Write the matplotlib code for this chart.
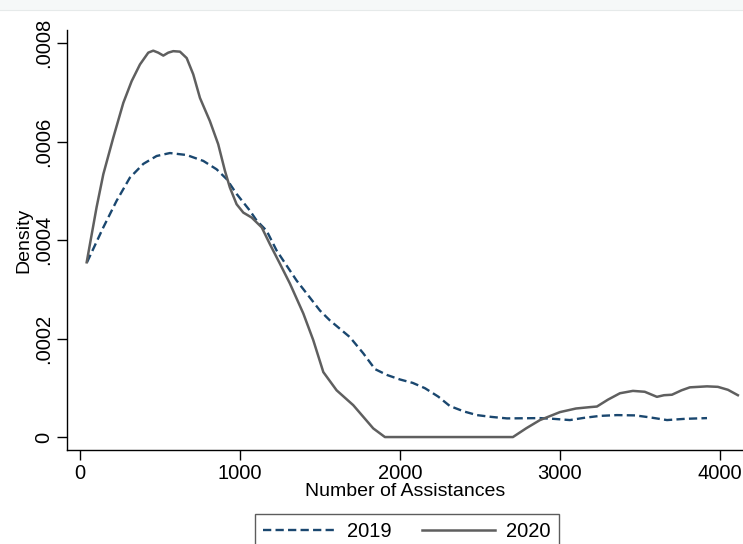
import numpy as np
import matplotlib.pyplot as plt
from matplotlib.patches import Rectangle

plt.rcParams['font.family'] = ['Liberation Sans', 'DejaVu Sans']

# kernel density values
x_2019 = [44, 146, 229, 312, 396, 479, 562, 667, 771, 854, 917, 979, 1062, 1104, 1167, 1229, 1354,
          1500, 1562, 1687, 1771, 1844, 1920, 2000, 2080, 2156, 2240, 2312, 2400, 2481, 2570, 2669,
          2780, 2875, 2960, 3062, 3150, 3250, 3356, 3470, 3562, 3669, 3780, 3919]
y_2019 = [0.000355, 0.000426, 0.000480, 0.000527, 0.000555, 0.000571, 0.000577, 0.000573, 0.000561,
          0.000544, 0.000524, 0.000494, 0.000460, 0.000440, 0.000419, 0.000379, 0.000318, 0.000257,
          0.000237, 0.000203, 0.000170, 0.000138, 0.000126, 0.000117, 0.000110, 0.0000993, 0.000082,
          0.0000630, 0.000052, 0.0000446, 0.000041, 0.0000379, 0.0000382, 0.0000385, 0.000037,
          0.0000345, 0.000039, 0.0000430, 0.0000446, 0.000044, 0.000040, 0.0000345, 0.000037,
          0.0000385]

x_2020 = [42, 104, 146, 208, 271, 323, 375, 427, 458, 489, 521, 552, 583, 625, 667, 708, 750, 771,
          812, 864, 906, 937, 979, 1021, 1073, 1136, 1187, 1250, 1312, 1396, 1458, 1521, 1604, 1708,
          1833, 1906, 2100, 2300, 2500, 2706, 2790, 2875, 3000, 3100, 3187, 3231, 3300, 3375, 3456,
          3530, 3606, 3650, 3700, 3760, 3812, 3919, 3987, 4050, 4112]
y_2020 = [0.000355, 0.000467, 0.000534, 0.000608, 0.000679, 0.000723, 0.000757, 0.000781, 0.000785,
          0.000781, 0.000775, 0.000781, 0.000784, 0.000783, 0.000770, 0.000737, 0.000689, 0.000673,
          0.000642, 0.000595, 0.000541, 0.000507, 0.000473, 0.000456, 0.000446, 0.000426, 0.000392,
          0.000352, 0.000312, 0.000251, 0.000197, 0.000132, 0.000095, 0.0000648, 0.0000176, 0.0,
          0.0, 0.0, 0.0, 0.0, 0.000018, 0.0000345, 0.0000507, 0.000058, 0.0000608, 0.000062,
          0.000076, 0.000089, 0.0000938, 0.000092, 0.0000817, 0.000085, 0.000086, 0.000095, 0.000101,
          0.000103, 0.000102, 0.000096, 0.000085]

x_ticks = [0, 1000, 2000, 3000, 4000]
y_ticks = [0, 0.0002, 0.0004, 0.0006, 0.0008]
y_tick_labels = ['0', '.0002', '.0004', '.0006', '.0008']

fig = plt.figure(figsize=(7.43, 5.44), dpi=100)
ax = fig.add_axes([67 / 743, 1 - 450 / 544, 1 - 67 / 743, (450 - 30) / 544])

# faint band at the very top
fig.patches.append(Rectangle((0, 1 - 10 / 544), 1, 10 / 544, transform=fig.transFigure,
                             facecolor='#f6f8f8', edgecolor='none'))
fig.lines.append(plt.Line2D([0, 1], [1 - 10 / 544, 1 - 10 / 544], transform=fig.transFigure,
                            color='#e6eaea', lw=0.8))

ax.plot(x_2019, y_2019, color='#1a476f', lw=1.7, dashes=(3.5, 1.8), label='2019')
ax.plot(x_2020, y_2020, color='#5f5f5f', lw=1.8, label='2020')

ax.set_xlim(-81, 4144)
ax.set_ylim(-0.0000263, 0.000827)
ax.set_xticks(x_ticks)
ax.set_xticklabels([str(t) for t in x_ticks], fontsize=14.5)
ax.set_yticks(y_ticks)
ax.set_yticklabels(y_tick_labels, fontsize=14.5, rotation=90, va='center')
ax.tick_params(direction='out', length=7, width=1, colors='black', pad=3)
ax.spines['top'].set_visible(False)
ax.spines['right'].set_visible(False)
ax.spines['left'].set_linewidth(1)
ax.spines['bottom'].set_linewidth(1)
ax.set_xlabel('Number of Assistances', fontsize=14, labelpad=0)
ax.set_ylabel('Density', fontsize=14, labelpad=1)

leg = fig.legend(loc='upper left', bbox_to_anchor=(255 / 743, 1 - 514 / 544), ncol=2,
                 fontsize=14.5, frameon=True, fancybox=False, handlelength=3.6,
                 columnspacing=1.55, borderpad=0.4, handletextpad=0.55, borderaxespad=0)
leg.get_frame().set_edgecolor('#333333')
leg.get_frame().set_linewidth(1)

fig.savefig('out.png', dpi=100)
